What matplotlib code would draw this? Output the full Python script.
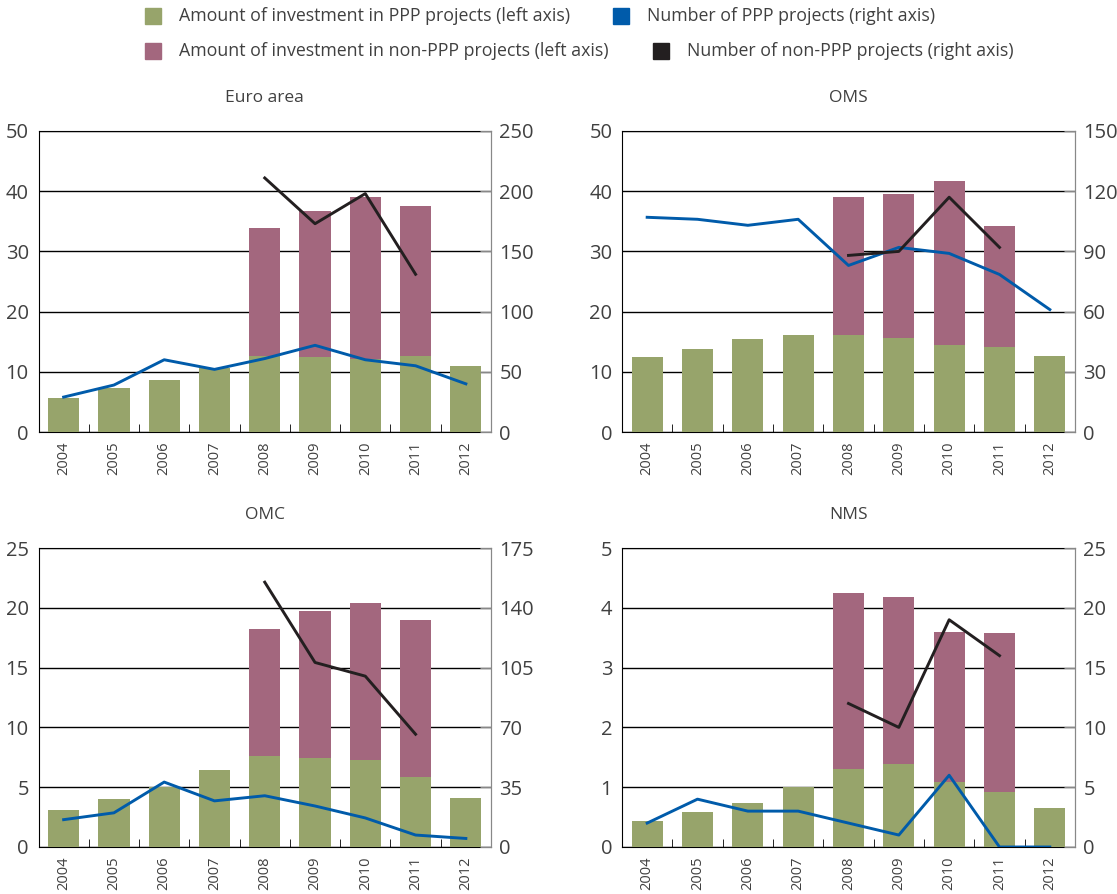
import numpy as np
import matplotlib.pyplot as plt

plt.rcParams['font.family'] = ['Open Sans', 'DejaVu Sans']

years = ['2004', '2005', '2006', '2007', '2008', '2009', '2010', '2011', '2012']

# Euro area
ea_ppp_amt = [5.65, 7.3, 8.65, 10.7, 12.6, 12.4, 12.1, 12.6, 10.9]
ea_nonppp_amt = [None, None, None, None, 33.9, 36.75, 39.0, 37.5, None]
ea_ppp_num = [29, 39, 60, 52, 61, 72, 60, 55, 40]
ea_nonppp_num = [None, None, None, None, 211, 173, 198, 131, None]

# OMS
oms_ppp_amt = [12.4, 13.75, 15.4, 16.1, 16.1, 15.6, 14.4, 14.1, 12.6]
oms_nonppp_amt = [None, None, None, None, 39.0, 39.5, 41.7, 34.2, None]
oms_ppp_num = [107, 106, 103, 106, 83, 92, 89, 78.5, 61]
oms_nonppp_num = [None, None, None, None, 88, 90, 117, 92, None]

# OMC
omc_ppp_amt = [3.1, 4.03, 5.0, 6.45, 7.62, 7.48, 7.29, 5.87, 4.12]
omc_nonppp_amt = [None, None, None, None, 18.2, 19.7, 20.4, 18.97, None]
omc_ppp_num = [16, 20, 38, 27, 30, 24, 17, 7, 5]
omc_nonppp_num = [None, None, None, None, 155, 108, 100, 66, None]

# NMS
nms_ppp_amt = [0.44, 0.59, 0.74, 1.0, 1.31, 1.39, 1.09, 0.92, 0.66]
nms_nonppp_amt = [None, None, None, None, 4.24, 4.18, 3.59, 3.58, None]
nms_ppp_num = [2, 4, 3, 3, 2, 1, 6, 0, 0]
nms_nonppp_num = [None, None, None, None, 12, 10, 19, 16, None]

panels = [
    ('Euro area', ea_ppp_amt, ea_nonppp_amt, ea_ppp_num, ea_nonppp_num, 50, 10, 250, 50),
    ('OMS', oms_ppp_amt, oms_nonppp_amt, oms_ppp_num, oms_nonppp_num, 50, 10, 150, 30),
    ('OMC', omc_ppp_amt, omc_nonppp_amt, omc_ppp_num, omc_nonppp_num, 25, 5, 175, 35),
    ('NMS', nms_ppp_amt, nms_nonppp_amt, nms_ppp_num, nms_nonppp_num, 5, 1, 25, 5),
]

GREEN = '#97a46b'
PURPLE = '#a3677e'
BLUE = '#005baa'
BLACK = '#231f20'
TXT = '#404040'

W, H = 1117, 894
fig = plt.figure(figsize=(W / 100, H / 100), dpi=100)

# pixel boxes: left, right, top, bottom
boxes = [(38.5, 491, 131, 432), (622, 1075, 131, 432),
         (38.5, 491, 548, 847), (622, 1075, 548, 847)]
title_y = [98, 98, 515, 515]

x = np.arange(len(years))

def nan(v):
    return np.array([np.nan if a is None else a for a in v], dtype=float)

for (name, ppp_a, non_a, ppp_n, non_n, lmax, lstep, rmax, rstep), (l, r, t, b), ty in zip(panels, boxes, title_y):
    ax = fig.add_axes([l / W, 1 - b / H, (r - l) / W, (b - t) / H])
    ax.bar(x, nan(non_a), width=0.62, color=PURPLE, zorder=2)
    ax.bar(x, ppp_a, width=0.62, color=GREEN, zorder=3)
    ax.set_ylim(0, lmax)
    ax.set_xlim(-0.5, len(years) - 0.5)
    ax.set_yticks(np.arange(0, lmax + lstep / 2, lstep))
    ax.yaxis.grid(True, color='black', lw=1)
    ax.set_axisbelow(True)
    ax.tick_params(axis='y', length=0, labelsize=14.5, labelcolor=TXT, pad=7)
    ax.set_xticks(x)
    ax.set_xticklabels(years, rotation=90, fontsize=10.5, color=TXT)
    ax.tick_params(axis='x', length=0, pad=7)
    ax.set_xticks(np.arange(0.5, len(years) - 1, 1), minor=True)
    ax.tick_params(axis='x', which='minor', direction='in', length=6, color='black')
    for s in ['left', 'bottom', 'top']:
        ax.spines[s].set_color('black')
    ax.spines['right'].set_color('#888888')

    ax2 = ax.twinx()
    ax2.plot(x, ppp_n, color=BLUE, lw=2.1, zorder=4)
    ax2.plot(x, nan(non_n), color=BLACK, lw=2.1, zorder=5)
    ax2.set_ylim(0, rmax)
    ax2.set_yticks(np.arange(0, rmax + rstep / 2, rstep))
    ax2.tick_params(axis='y', direction='in', length=8, color='#888888', labelsize=14.5, labelcolor=TXT, pad=6)
    ax2.spines['right'].set_color('#888888')
    for s in ['left', 'bottom', 'top']:
        ax2.spines[s].set_visible(False)

    fig.text(((l + r) / 2) / W, 1 - ty / H, name, ha='center', va='center', fontsize=12.5, color=TXT)

# legend
leg = [(153, 16, GREEN, 'Amount of investment in PPP projects (left axis)'),
       (621, 16, BLUE, 'Number of PPP projects (right axis)'),
       (153, 51, PURPLE, 'Amount of investment in non-PPP projects (left axis)'),
       (661, 51, BLACK, 'Number of non-PPP projects (right axis)')]
for px, py, c, lab in leg:
    fig.patches.append(plt.Rectangle(((px - 8) / W, 1 - (py + 8) / H), 16 / W, 16 / H,
                                     transform=fig.transFigure, color=c))
    fig.text((px + 26) / W, 1 - py / H, lab, ha='left', va='center', fontsize=12.8, color=TXT)

fig.savefig('out.png', dpi=100)
